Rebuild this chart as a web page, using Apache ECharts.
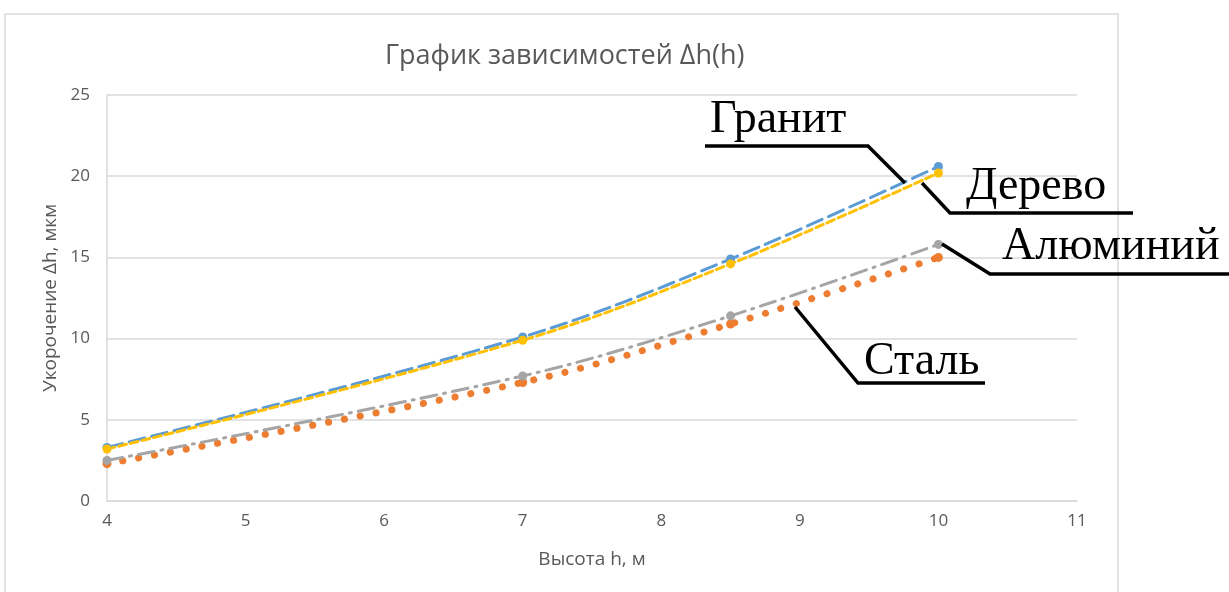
<!DOCTYPE html>
<html>
<head>
<meta charset="utf-8">
<script src="https://cdn.jsdelivr.net/npm/echarts@6/dist/echarts.min.js"></script>
<style>
  html, body { margin: 0; padding: 0; background: #fff; }
  #chart { width: 1229px; height: 592px; }
</style>
</head>
<body>
<div id="chart"></div>
<script>
const heights = [4, 7, 8.5, 10];
const granite = [3.3, 10.1, 14.9, 20.6];
const steel = [2.3, 7.3, 10.9, 15.0];
const aluminium = [2.5, 7.7, 11.4, 15.8];
const wood = [3.2, 9.9, 14.6, 20.2];
const seriesNames = ['Гранит', 'Сталь', 'Алюминий', 'Дерево'];

const AXIS_TEXT = '#595959';
const GRID_LINE = '#d9d9d9';
const LABEL_FONT = "'Liberation Sans Narrow', 'Open Sans', sans-serif";

const chart = echarts.init(document.getElementById('chart'));

function pairs(values) {
  return heights.map((h, i) => [h, values[i]]);
}

function lineSeries(name, values, color, dash, width) {
  return {
    name: name,
    type: 'line',
    data: pairs(values),
    smooth: 0.35,
    symbol: 'circle',
    symbolSize: 9,
    itemStyle: { color: color },
    lineStyle: { color: color, width: width || 3, type: dash, cap: 'round' }
  };
}

// leader lines + labels drawn on top, like the hand annotations in the picture
function annotation(text, textX, textY, points) {
  return [
    {
      type: 'polyline',
      shape: { points: points },
      style: { stroke: '#000', lineWidth: 3.5, fill: null },
      z: 100
    },
    {
      type: 'text',
      x: textX,
      y: textY,
      style: {
        text: text,
        fill: '#000',
        font: "46px 'Liberation Serif', 'Times New Roman', serif",
        verticalAlign: 'middle'
      },
      z: 100
    }
  ];
}

const option = {
  backgroundColor: '#fff',
  animation: false,
  title: {
    text: 'График зависимостей Δh(h)',
    left: 380,
    top: 38,
    textStyle: { color: AXIS_TEXT, fontSize: 27, fontWeight: 'normal', fontFamily: LABEL_FONT }
  },
  grid: { left: 107, right: 152, top: 95, bottom: 91 },
  xAxis: {
    type: 'value',
    min: 4,
    max: 11,
    interval: 1,
    name: 'Высота h, м',
    nameLocation: 'middle',
    nameGap: 49,
    nameTextStyle: { color: AXIS_TEXT, fontSize: 19, fontFamily: LABEL_FONT },
    axisLine: { lineStyle: { color: GRID_LINE, width: 1.5 } },
    axisTick: { show: false },
    axisLabel: { color: AXIS_TEXT, fontSize: 17, margin: 12, fontFamily: LABEL_FONT },
    splitLine: { show: false }
  },
  yAxis: {
    type: 'value',
    min: 0,
    max: 25,
    interval: 5,
    name: 'Укорочение Δh, мкм',
    nameLocation: 'middle',
    nameGap: 45,
    nameTextStyle: { color: AXIS_TEXT, fontSize: 19, fontFamily: LABEL_FONT },
    axisLine: { show: true, lineStyle: { color: GRID_LINE, width: 1.5 } },
    axisTick: { show: false },
    axisLabel: { color: AXIS_TEXT, fontSize: 17, margin: 17, fontFamily: LABEL_FONT },
    splitLine: { lineStyle: { color: GRID_LINE, width: 1.5 } }
  },
  series: [
    lineSeries(seriesNames[0], granite, '#5B9BD5', [16, 7]),
    lineSeries(seriesNames[1], steel, '#ED7D31', [0.1, 16], 7),
    lineSeries(seriesNames[2], aluminium, '#A5A5A5', [16, 7, 2, 7]),
    lineSeries(seriesNames[3], wood, '#FFC000', [8, 4])
  ],
  graphic: [
    {
      type: 'rect',
      shape: { x: 5, y: 14, width: 1113, height: 600 },
      style: { stroke: GRID_LINE, lineWidth: 1.5, fill: null },
      z: -1
    },
    ...annotation('Гранит', 710, 120, [[705, 146], [868, 146], [905, 183]]),
    ...annotation('Дерево', 966, 187, [[922, 183], [950, 213], [1133, 213]]),
    ...annotation('Алюминий', 1002, 247, [[942, 244], [990, 274], [1229, 274]]),
    ...annotation('Сталь', 864, 362, [[795, 307], [858, 383], [985, 383]])
  ]
};

chart.setOption(option);
</script>
</body>
</html>
